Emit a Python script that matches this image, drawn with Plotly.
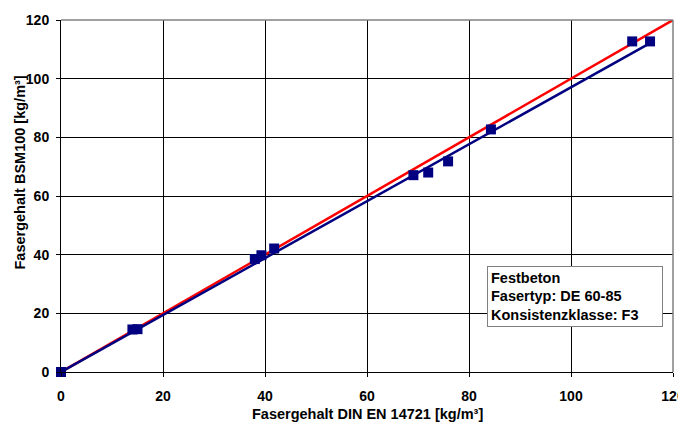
import plotly.graph_objects as go

# Data
x_vals = [0, 14, 15, 38, 39.3, 41.8, 69.1, 72, 75.9, 84.3, 112, 115.5]
y_vals = [0, 14.5, 14.6, 38.5, 39.8, 42.1, 67.1, 68, 71.8, 82.7, 112.7, 112.7]
ref_x = [0, 120]
ref_y = [0, 120]
fit_x = [0, 115.5]
fit_y = [0, 112.1]
x_ticks = [0, 20, 40, 60, 80, 100, 120]
y_ticks = [0, 20, 40, 60, 80, 100, 120]
x_tick_labels = ["0", "20", "40", "60", "80", "100", "120"]
y_tick_labels = ["0", "20", "40", "60", "80", "100", "120"]
x_title = "Fasergehalt DIN EN 14721 [kg/m³]"
y_title = "Fasergehalt BSM100 [kg/m³]"
box_lines = ["Festbeton", "Fasertyp: DE 60-85", "Konsistenzklasse: F3"]

FONT = "Liberation Sans, Arial, sans-serif"

fig = go.Figure()
fig.add_trace(go.Scatter(x=ref_x, y=ref_y, mode="lines",
                         line=dict(color="#FF0000", width=2.5), showlegend=False))
fig.add_trace(go.Scatter(x=fit_x, y=fit_y, mode="lines",
                         line=dict(color="#000080", width=2.5), showlegend=False))
fig.add_trace(go.Scatter(x=x_vals, y=y_vals, mode="markers",
                         marker=dict(symbol="square", size=10, color="#000080",
                                     line=dict(width=0)),
                         showlegend=False, cliponaxis=False))

PW, PH = 612, 352  # plot area size in px

# page body has an 8px default margin; size the figure to compensate
fig.update_layout(
    width=678, height=415,
    margin=dict(l=53, r=13, t=12, b=51),
    paper_bgcolor="white", plot_bgcolor="white",
    font=dict(family=FONT, color="black"),
    xaxis=dict(range=[0, 120], tickvals=x_ticks,
               ticktext=["<b>%s</b>" % t for t in x_tick_labels],
               showgrid=True, gridcolor="black",
               gridwidth=1, showline=True, linecolor="black", linewidth=1,
               ticks="outside", ticklen=4, tickcolor="black", zeroline=False,
               ticklabelstandoff=7,
               tickfont=dict(size=14, family=FONT),
               automargin=False),
    yaxis=dict(range=[0, 120], tickvals=y_ticks,
               ticktext=["<b>%s</b>" % t for t in y_tick_labels],
               showgrid=True, gridcolor="black",
               gridwidth=1, showline=True, linecolor="black", linewidth=1,
               ticks="outside", ticklen=4, tickcolor="black", zeroline=False,
               ticklabelstandoff=4,
               tickfont=dict(size=14, family=FONT),
               automargin=False),
    shapes=[
        dict(type="line", xref="paper", yref="paper", x0=0, x1=1, y0=1, y1=1,
             line=dict(color="#808080", width=1.5)),
        dict(type="line", xref="paper", yref="paper", x0=1, x1=1, y0=0, y1=1,
             line=dict(color="#808080", width=1.5)),
    ],
    annotations=[
        dict(xref="paper", yref="paper", x=0.5, y=(372 - 414) / PH,
             xanchor="center", yanchor="middle", showarrow=False,
             text="<b>%s</b>" % x_title,
             font=dict(size=14.5, family=FONT, color="black")),
        dict(xref="paper", yref="paper", x=(19 - 61) / PW, y=(372 - 172.5) / PH,
             xanchor="center", yanchor="middle", showarrow=False, textangle=-90,
             text="<b>%s</b>" % y_title,
             font=dict(size=14.5, family=FONT, color="black")),
        dict(xref="paper", yref="paper", x=(487 - 61) / PW, y=(372 - 266) / PH,
             xanchor="left", yanchor="top", align="left", showarrow=False,
             text="<b>" + "<br>".join(box_lines) + "</b>",
             font=dict(size=14.5, family=FONT, color="black"),
             bgcolor="white", bordercolor="#808080", borderwidth=1, borderpad=3,
             width=168, height=53, valign="middle"),
    ],
)

fig.write_html("out.html")
